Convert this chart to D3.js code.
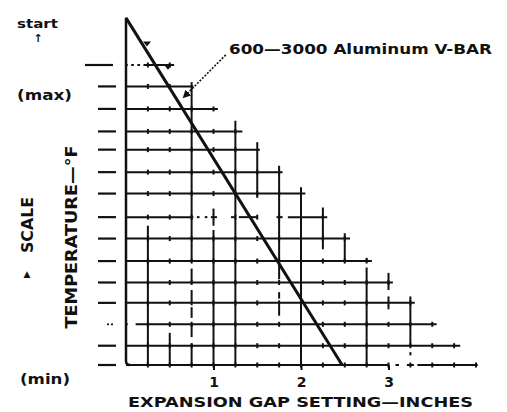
<!DOCTYPE html>
<html>
<head>
<meta charset="utf-8">
<script src="https://cdn.jsdelivr.net/npm/d3@7"></script>
<style>
  html, body { margin: 0; padding: 0; background: #fff; }
  text { font-family: "DejaVu Sans", sans-serif; font-weight: bold; fill: #111; }
</style>
</head>
<body>
<div id="chart"></div>
<script>
// temperature steps (bottom = min) and how far each step line runs, in inches
var levels    = [14, 13, 11.95, 10.9, 10.05, 9, 8, 6.9, 5.9, 4.85, 3.85, 2.9, 1.9, 0.9, 0];
var levelEnds = [0.55, 0.77, 1.05, 1.33, 1.53, 1.79, 2.05, 2.30, 2.56, 2.81, 3.05, 3.30, 3.55, 3.82, 4.02];

// breaks in the step lines: [level, from, to]
var levelGaps = [
  [14, 0.02, 0.06], [14, 0.09, 0.13], [14, 0.16, 0.20],
  [6.9, 0.77, 0.81], [6.9, 0.84, 0.90], [6.9, 0.93, 0.97], [6.9, 1.04, 1.20],
  [6.9, 1.24, 1.29], [6.9, 1.50, 1.72], [6.9, 1.79, 1.85],
  [1.9, 0.02, 0.11],
  [0, 3.00, 3.08], [0, 3.12, 3.21], [0, 3.29, 3.33]
];

// grid columns (inches)
var gridX = [0.25, 0.5, 0.75, 1.0, 1.25, 1.5, 1.75, 2.0, 2.25, 2.5, 2.75, 3.0, 3.25, 3.5, 3.75, 4.0];

// visible runs of the vertical grid lines: [x, top level, bottom level]
var verticalRuns = [
  [0.25, 6.5, 0],
  [0.5, 1.5, 0],
  [0.75, 13.2, 4.8], [0.75, 4.5, 3.9], [0.75, 3.5, 3.0], [0.75, 2.7, 2.2], [0.75, 1.9, 1.3], [0.75, 1.0, 0],
  [1.0, 7.3, 7.0], [1.0, 6.8, 6.5], [1.0, 6.3, 0],
  [1.25, 11.4, 0],
  [1.5, 10.4, 7.8],
  [1.75, 9.3, 4.0], [1.75, 3.4, 3.1], [1.75, 2.8, 2.3],
  [2.0, 8.3, 0],
  [2.25, 7.35, 5.4],
  [2.5, 6.15, 4.8],
  [2.75, 5.0, 4.85], [2.75, 4.55, 0],
  [3.0, 4.3, 3.5], [3.0, 3.2, 3.0], [3.0, 2.8, 2.6],
  [3.25, 3.2, 0.93], [3.25, 0.6, 0.45],
  [4.0, 0.12, -0.12]
];

// the V-bar setting line and its callout
var barLine = [[0, 16.2], [2.47, 0]];
var leader = [[1.14, 14.47], [0.66, 12.5]];
var seriesLabel = "600\u20143000 Aluminum V-BAR";

// small arrow marks near the top of the setting line: [x, level]
var barMarks = [[0.24, 15.0], [0.48, 13.92]];

var xTicks = [1, 2, 3];
var axisTop = 16.2;

var width = 507, height = 412;

var x = d3.scaleLinear().domain([0, 4]).range([126, 476]),
    y = d3.scaleLinear().domain([0, 14]).range([365, 65]);

var ink = "#111";

var svg = d3.select("#chart")
  .append("svg")
    .attr("width", width)
    .attr("height", height)
    .style("display", "block");

svg.append("defs").append("marker")
    .attr("id", "arrow")
    .attr("viewBox", "0 0 10 10")
    .attr("refX", 8).attr("refY", 5)
    .attr("markerWidth", 5).attr("markerHeight", 5)
    .attr("orient", "auto")
  .append("path")
    .attr("d", "M0,0 L10,5 L0,10 z")
    .attr("fill", ink);

// split a step line into drawn pieces around its gaps
function segmentsFor(level, end) {
  var gaps = levelGaps.filter(function (g) { return g[0] === level; })
                      .sort(function (a, b) { return a[1] - b[1]; });
  var segs = [], start = 0;
  gaps.forEach(function (g) {
    if (g[1] > start) segs.push([start, g[1]]);
    start = g[2];
  });
  if (end > start) segs.push([start, end]);
  return segs;
}

var hSegs = [];
levels.forEach(function (lv, i) {
  segmentsFor(lv, levelEnds[i]).forEach(function (s) {
    hSegs.push({level: lv, x0: s[0], x1: s[1]});
  });
});

var grid = svg.append("g").attr("class", "grid");

grid.selectAll("line.h")
    .data(hSegs)
  .enter().append("line")
    .attr("class", "h")
    .attr("x1", function (d) { return x(d.x0); })
    .attr("x2", function (d) { return x(d.x1); })
    .attr("y1", function (d) { return y(d.level); })
    .attr("y2", function (d) { return y(d.level); })
    .attr("stroke", ink)
    .attr("stroke-width", 2);

grid.selectAll("line.v")
    .data(verticalRuns)
  .enter().append("line")
    .attr("class", "v")
    .attr("x1", function (d) { return x(d[0]); })
    .attr("x2", function (d) { return x(d[0]); })
    .attr("y1", function (d) { return y(d[1]); })
    .attr("y2", function (d) { return y(d[2]); })
    .attr("stroke", ink)
    .attr("stroke-width", 2);

// little cross marks where the faded columns meet each step line
var crossings = [];
levels.forEach(function (lv, i) {
  gridX.forEach(function (gx) {
    if (gx < levelEnds[i] - 0.03) crossings.push({level: lv, x: gx});
  });
});

grid.selectAll("line.cross")
    .data(crossings)
  .enter().append("line")
    .attr("class", "cross")
    .attr("x1", function (d) { return x(d.x); })
    .attr("x2", function (d) { return x(d.x); })
    .attr("y1", function (d) { return y(d.level) - 2.5; })
    .attr("y2", function (d) { return y(d.level) + 2.5; })
    .attr("stroke", ink)
    .attr("stroke-width", 2);

// left side scale dashes
svg.append("g").selectAll("line.dash")
    .data(levels.filter(function (lv) { return lv !== 1.9; }))
  .enter().append("line")
    .attr("x1", function (lv) { return lv === 14 ? x(0) - 41 : x(0) - 28; })
    .attr("x2", function (lv) { return lv === 14 ? x(0) - 13 : x(0) - 10; })
    .attr("y1", function (lv) { return y(lv); })
    .attr("y2", function (lv) { return y(lv); })
    .attr("stroke", ink)
    .attr("stroke-width", 2.2);

svg.append("g").selectAll("circle.dot")
    .data([-18, -14])
  .enter().append("circle")
    .attr("cx", function (d) { return x(0) + d; })
    .attr("cy", y(1.9))
    .attr("r", 1.1)
    .attr("fill", ink);

// vertical axis with rounded foot
svg.append("path")
    .attr("d", "M" + x(0) + "," + y(axisTop) +
               "L" + x(0) + "," + (y(0) - 4) +
               "Q" + x(0) + "," + y(0) + " " + (x(0) + 4) + "," + y(0))
    .attr("fill", "none")
    .attr("stroke", ink)
    .attr("stroke-width", 2.5);

// x axis ticks and labels
var xAxis = d3.axisBottom(x)
    .tickValues(xTicks)
    .tickSize(5)
    .tickPadding(7)
    .tickFormat(d3.format("d"));

var gx = svg.append("g")
    .attr("transform", "translate(0," + y(0) + ")")
    .call(xAxis);
gx.select(".domain").remove();
gx.selectAll(".tick line").attr("stroke", ink).attr("stroke-width", 2);
gx.selectAll(".tick text")
    .attr("fill", ink)
    .style("font-family", "DejaVu Sans, sans-serif")
    .style("font-weight", "bold")
    .style("font-size", "14px");

// the setting line
var line = d3.line()
    .x(function (d) { return x(d[0]); })
    .y(function (d) { return y(d[1]); });

svg.append("path")
    .datum(barLine)
    .attr("d", line)
    .attr("fill", "none")
    .attr("stroke", ink)
    .attr("stroke-width", 3);

svg.append("path")
    .datum(leader)
    .attr("d", line)
    .attr("fill", "none")
    .attr("stroke", ink)
    .attr("stroke-width", 1.6)
    .attr("stroke-dasharray", "2,1.5")
    .attr("marker-end", "url(#arrow)");

svg.append("g").selectAll("path.mark")
    .data(barMarks)
  .enter().append("path")
    .attr("d", function (d) {
      var cx = x(d[0]), cy = y(d[1]);
      return "M" + (cx - 4) + "," + (cy - 2) + "L" + (cx + 4) + "," + (cy - 2) +
             "L" + cx + "," + (cy + 3) + "z";
    })
    .attr("fill", ink);

// labels
svg.append("text")
    .attr("x", 229).attr("y", 54)
    .attr("textLength", 263)
    .attr("lengthAdjust", "spacingAndGlyphs")
    .style("font-size", "14px")
    .text(seriesLabel);

svg.append("text")
    .attr("x", 17).attr("y", 28)
    .attr("textLength", 41)
    .attr("lengthAdjust", "spacingAndGlyphs")
    .style("font-size", "13px")
    .text("start");

svg.append("text")
    .attr("x", 38).attr("y", 42)
    .attr("text-anchor", "middle")
    .style("font-size", "11px")
    .text("\u2191");

svg.append("text")
    .attr("x", 17).attr("y", 100)
    .attr("textLength", 55)
    .attr("lengthAdjust", "spacingAndGlyphs")
    .style("font-size", "14px")
    .text("(max)");

svg.append("text")
    .attr("x", 20).attr("y", 384)
    .attr("textLength", 50)
    .attr("lengthAdjust", "spacingAndGlyphs")
    .style("font-size", "14px")
    .text("(min)");

svg.append("text")
    .attr("x", 128).attr("y", 407)
    .attr("textLength", 345)
    .attr("lengthAdjust", "spacingAndGlyphs")
    .style("font-size", "14px")
    .text("EXPANSION GAP SETTING\u2014INCHES");

svg.append("text")
    .attr("transform", "translate(77,237) rotate(-90)")
    .attr("text-anchor", "middle")
    .attr("textLength", 183)
    .attr("lengthAdjust", "spacingAndGlyphs")
    .style("font-size", "16px")
    .text("TEMPERATURE\u2014\u00B0F");

svg.append("text")
    .attr("transform", "translate(33,225) rotate(-90)")
    .attr("text-anchor", "middle")
    .attr("textLength", 56)
    .attr("lengthAdjust", "spacingAndGlyphs")
    .style("font-size", "15px")
    .text("SCALE");

svg.append("text")
    .attr("x", 27).attr("y", 277)
    .attr("text-anchor", "middle")
    .style("font-size", "9px")
    .text("\u25B2");
</script>
</body>
</html>
